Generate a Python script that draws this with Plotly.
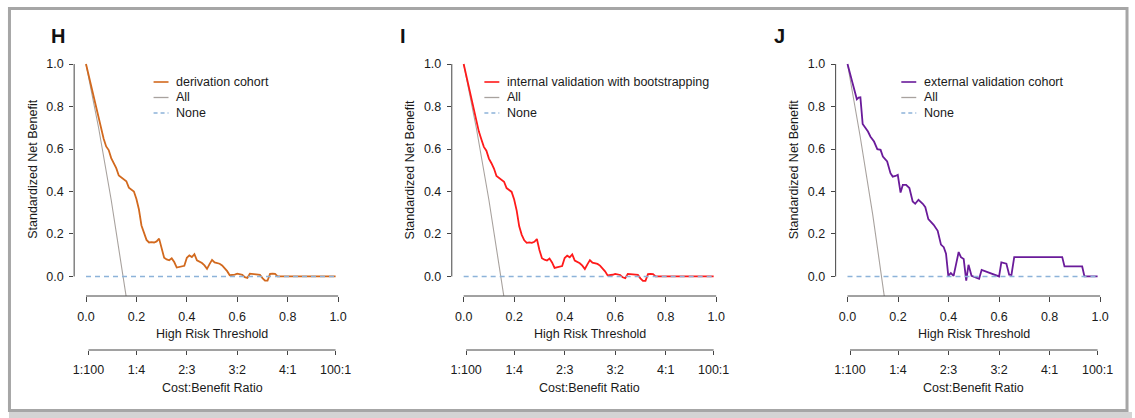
import plotly.graph_objects as go

# ---------------- data ----------------
thr_H = [round(i * 0.01, 2) for i in range(77)] + [0.80, 0.85, 0.90, 0.95, 0.99]
nb_H = [1.000, 0.950, 0.895, 0.840, 0.785, 0.735, 0.685, 0.648, 0.612, 0.595,
        0.557, 0.535, 0.510, 0.475, 0.465, 0.458, 0.448, 0.418, 0.410, 0.400,
        0.365, 0.315, 0.240, 0.200, 0.172, 0.160, 0.162, 0.160, 0.165, 0.178,
        0.130, 0.088, 0.080, 0.076, 0.085, 0.068, 0.042, 0.045, 0.048, 0.050,
        0.088, 0.099, 0.091, 0.105, 0.076, 0.070, 0.063, 0.052, 0.036, 0.058,
        0.078, 0.066, 0.062, 0.060, 0.052, 0.039, 0.025, 0.006, 0.007, 0.009,
        0.013, 0.012, 0.008, -0.003, -0.007, 0.013, 0.012, 0.011, 0.010, 0.008,
        -0.008, -0.020, -0.020, 0.012, 0.013, 0.012, 0.000,
        0.0, 0.0, 0.0, 0.0, 0.0]

thr_I = [round(i * 0.01, 2) for i in range(77)] + [0.80, 0.85, 0.90, 0.95, 0.99]
nb_I = [1.000, 0.948, 0.893, 0.838, 0.783, 0.733, 0.683, 0.646, 0.610, 0.592,
        0.555, 0.533, 0.508, 0.473, 0.463, 0.456, 0.446, 0.416, 0.408, 0.398,
        0.362, 0.310, 0.236, 0.196, 0.170, 0.158, 0.160, 0.158, 0.163, 0.176,
        0.125, 0.086, 0.079, 0.075, 0.084, 0.066, 0.040, 0.044, 0.047, 0.049,
        0.087, 0.098, 0.090, 0.104, 0.075, 0.069, 0.062, 0.051, 0.035, 0.057,
        0.077, 0.065, 0.061, 0.059, 0.051, 0.038, 0.024, 0.005, 0.006, 0.008,
        0.012, 0.011, 0.007, -0.004, -0.008, 0.012, 0.011, 0.010, 0.009, 0.007,
        -0.009, -0.021, -0.021, 0.011, 0.012, 0.011, 0.000,
        0.0, 0.0, 0.0, 0.0, 0.0]

thr_J = [0.000, 0.015, 0.028, 0.037, 0.044, 0.051, 0.060, 0.070, 0.081, 0.091,
         0.105, 0.118, 0.131, 0.140, 0.157, 0.170, 0.179, 0.190, 0.199, 0.210,
         0.219, 0.232, 0.245, 0.258, 0.268, 0.281, 0.298, 0.308, 0.320, 0.341,
         0.357, 0.370, 0.381, 0.390, 0.399, 0.409, 0.420, 0.440, 0.449, 0.460,
         0.470, 0.479, 0.491, 0.521, 0.531, 0.600, 0.609, 0.629, 0.640, 0.649,
         0.660, 0.850, 0.859, 0.929, 0.938, 0.990]
nb_J = [1.000, 0.933, 0.886, 0.834, 0.842, 0.843, 0.718, 0.702, 0.682, 0.658,
        0.635, 0.599, 0.596, 0.564, 0.541, 0.486, 0.470, 0.473, 0.478, 0.395,
        0.431, 0.431, 0.416, 0.353, 0.342, 0.361, 0.342, 0.326, 0.270, 0.243,
        0.215, 0.150, 0.138, 0.107, 0.003, 0.016, 0.003, 0.115, 0.091, 0.082,
        -0.020, 0.055, 0.003, -0.011, 0.031, 0.000, 0.066, 0.060, 0.008, 0.007,
        0.091, 0.091, 0.047, 0.047, 0.000, 0.000]

# "treat all" reference lines
all_thr_HI = [0.00, 0.05, 0.10, 0.15, 0.16]
all_nb_HI = [1.00, 0.70, 0.36, -0.02, -0.10]
all_thr_J = [0.00, 0.05, 0.10, 0.135, 0.15]
all_nb_J = [1.00, 0.66, 0.29, 0.00, -0.13]

# "treat none" reference line
none_thr = [0.0, 0.99]
none_nb = [0.0, 0.0]

x_ticks = [0.0, 0.2, 0.4, 0.6, 0.8, 1.0]
y_ticks = [0.0, 0.2, 0.4, 0.6, 0.8, 1.0]
cb_ticks = [0.0099, 0.2, 0.4, 0.6, 0.8, 0.99]
cb_labels = ["1:100", "1:4", "2:3", "3:2", "4:1", "100:1"]

panel_letters = ["H", "I", "J"]
model_names = ["derivation cohort", "internal validation with bootstrapping",
               "external validation cohort"]
model_colors = ["#D2691E", "#FF1A1A", "#6A1B9A"]
all_color = "#A8A29E"
none_color = "#8DB3D9"

# ---------------- layout geometry (pixels) ----------------
W, HGT = 1135, 418
FONT = "Liberation Sans, Arial, Helvetica, sans-serif"
TXT = "#1a1a1a"
AX = "#444444"


def fx(p):
    return p / W


def fy(p):
    return 1 - p / HGT


XR = [-0.047, 1.04]
YR = [-0.092, 1.042]
x_zero_px = [85.3, 464.3, 849.5]
x_scale_px = [253.0, 253.4, 253.5]
letter_px = [57.3, 403.5, 781.7]
y_dom = [fy(296.0), fy(55.1)]
cb_axis_py = 350.0

series = [(thr_H, nb_H, all_thr_HI, all_nb_HI),
          (thr_I, nb_I, all_thr_HI, all_nb_HI),
          (thr_J, nb_J, all_thr_J, all_nb_J)]

fig = go.Figure()
shapes = []
annotations = []
layout = {}

for k in range(3):
    n = k + 1
    xs = "" if n == 1 else str(n)
    xa, ya = "x" + xs, "y" + xs
    xa2 = "x" + str(n + 3)
    thr, nb, athr, anb = series[k]
    x0p, sc = x_zero_px[k], x_scale_px[k]
    left = x0p + XR[0] * sc
    right = x0p + XR[1] * sc
    dom = [fx(left), fx(right)]

    fig.add_trace(go.Scatter(x=athr, y=anb, mode="lines", xaxis=xa, yaxis=ya,
                             line=dict(color=all_color, width=1.1),
                             showlegend=False, hoverinfo="skip", name="All"))
    fig.add_trace(go.Scatter(x=thr, y=nb, mode="lines", xaxis=xa, yaxis=ya,
                             line=dict(color=model_colors[k], width=1.8),
                             showlegend=False, name=model_names[k]))
    fig.add_trace(go.Scatter(x=none_thr, y=none_nb, mode="lines", xaxis=xa, yaxis=ya,
                             line=dict(color=none_color, width=1.6, dash="5px,4px"),
                             showlegend=False, hoverinfo="skip", name="None"))
    # dummy trace to activate the secondary (cost:benefit) axis
    fig.add_trace(go.Scatter(x=[], y=[], mode="lines", xaxis=xa2, yaxis=ya,
                             showlegend=False, hoverinfo="skip"))

    tickfont = dict(family=FONT, size=12.5, color=TXT)
    layout["xaxis" + xs] = dict(domain=dom, range=XR, anchor=ya, showgrid=False,
                                zeroline=False, showline=False, ticks="outside",
                                ticklen=5, tickwidth=1, tickcolor=AX,
                                tickvals=x_ticks, ticktext=[f"{v:.1f}" for v in x_ticks],
                                tickfont=tickfont, ticklabelstandoff=4)
    layout["yaxis" + xs] = dict(domain=y_dom, range=YR, anchor=xa, showgrid=False,
                                zeroline=False, showline=False, ticks="outside",
                                ticklen=4, tickwidth=1, tickcolor=AX,
                                tickvals=y_ticks, ticktext=[f"{v:.1f}" for v in y_ticks],
                                tickfont=tickfont, ticklabelstandoff=3)
    layout["xaxis" + str(n + 3)] = dict(domain=dom, range=XR, overlaying=xa,
                                        anchor="free", position=fy(cb_axis_py),
                                        side="bottom", showgrid=False, zeroline=False,
                                        showline=False, ticks="outside", ticklen=4,
                                        tickwidth=1, tickcolor=AX,
                                        tickvals=cb_ticks, ticktext=cb_labels,
                                        tickfont=tickfont, ticklabelstandoff=4)

    # axis lines in R style (spanning tick range only)
    shapes.append(dict(type="line", xref=xa + " domain", yref=ya, x0=0, x1=0,
                       y0=0, y1=1, line=dict(color=AX, width=1)))
    shapes.append(dict(type="line", xref=xa, yref=ya + " domain", x0=0, x1=1,
                       y0=0, y1=0, line=dict(color=AX, width=1)))
    shapes.append(dict(type="line", xref=xa, yref="paper", x0=cb_ticks[0],
                       x1=cb_ticks[-1], y0=fy(cb_axis_py), y1=fy(cb_axis_py),
                       line=dict(color=AX, width=1)))

    # axis titles
    annotations.append(dict(text="High Risk Threshold", xref=xa, yref="paper",
                            x=0.5, y=fy(333.5), showarrow=False,
                            font=dict(family=FONT, size=12.5, color=TXT),
                            xanchor="center", yanchor="middle"))
    annotations.append(dict(text="Cost:Benefit Ratio", xref=xa, yref="paper",
                            x=0.5, y=fy(387.5), showarrow=False,
                            font=dict(family=FONT, size=12.5, color=TXT),
                            xanchor="center", yanchor="middle"))
    annotations.append(dict(text="Standardized Net Benefit", xref="paper", yref="paper",
                            x=fx(left - 41.5), y=fy(169), showarrow=False, textangle=-90,
                            font=dict(family=FONT, size=12.5, color=TXT),
                            xanchor="center", yanchor="middle"))
    # panel letter
    annotations.append(dict(text="<b>" + panel_letters[k] + "</b>", xref="paper",
                            yref="paper", x=fx(letter_px[k]), y=fy(36), showarrow=False,
                            font=dict(family=FONT, size=20, color="#111"),
                            xanchor="center", yanchor="middle"))

    # legend (drawn manually, R style)
    leg_x0 = x0p + [0.268, 0.082, 0.213][k] * sc
    leg_rows = [82, 97.5, 113]
    leg_items = [(model_names[k], model_colors[k], None, 1.6),
                 ("All", all_color, None, 1.3),
                 ("None", none_color, "4px,3px", 1.6)]
    for (lbl, col, dsh, lw), ry in zip(leg_items, leg_rows):
        ln = dict(color=col, width=lw)
        if dsh:
            ln["dash"] = dsh
        shapes.append(dict(type="line", xref="paper", yref="paper",
                           x0=fx(leg_x0), x1=fx(leg_x0 + 15), y0=fy(ry), y1=fy(ry),
                           line=ln))
        annotations.append(dict(text=lbl, xref="paper", yref="paper",
                                x=fx(leg_x0 + 21), y=fy(ry), showarrow=False,
                                xanchor="left", yanchor="middle",
                                font=dict(family=FONT, size=12.5, color=TXT)))

# outer frame
shapes.append(dict(type="rect", xref="paper", yref="paper", x0=fx(8.5), x1=fx(1130),
                   y0=fy(410.5), y1=fy(8.5), line=dict(color="#A6A6A6", width=3),
                   layer="below"))
shapes.append(dict(type="rect", xref="paper", yref="paper", x0=fx(8), x1=fx(1135),
                   y0=fy(418), y1=fy(412), line=dict(width=0), fillcolor="#D4D4D4",
                   layer="below"))

fig.update_layout(**layout)
fig.update_layout(width=W, height=HGT, margin=dict(l=0, r=0, t=0, b=0),
                  paper_bgcolor="white", plot_bgcolor="white",
                  shapes=shapes, annotations=annotations, showlegend=False,
                  font=dict(family=FONT, color=TXT))

fig.write_html("out.html", config={"displayModeBar": False},
               post_script="document.body.style.margin='0';"
                           "document.body.style.overflow='hidden';")
